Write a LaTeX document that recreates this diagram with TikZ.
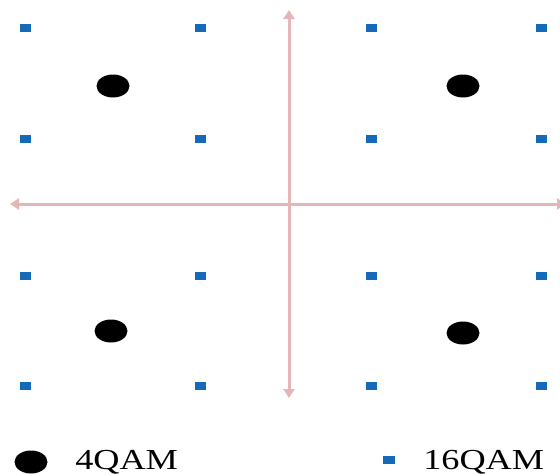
\documentclass[tikz,border=0pt]{standalone}
\usepackage{fontspec}
\setmainfont{Liberation Serif}
\usetikzlibrary{arrows.meta}
\usetikzlibrary{shapes.geometric}
\definecolor{axispink}{RGB}{228,182,182}
\definecolor{ptblue}{RGB}{20,105,185}
\tikzset{
  sq/.style={fill=ptblue, draw=none, minimum width=11.5pt, minimum height=8.5pt, inner sep=0pt, outer sep=0pt},
  dot/.style={ellipse, fill=black, draw=none, minimum width=33pt, minimum height=23pt, inner sep=0pt},
  axis/.style={draw=axispink, line width=3pt, -{Triangle[length=9pt,width=11pt]}},
  legtext/.style={font=\fontsize{29}{32}\selectfont, anchor=base west, xscale=1.25, inner sep=0pt}
}
\begin{document}
\begin{tikzpicture}[x=1pt,y=-1pt]
\useasboundingbox (0,0) rectangle (560,474);
\fill[white] (0,0) rectangle (560,474);
% axes
\coordinate (o) at (289,204);
\coordinate (top) at (289,10);
\coordinate (bot) at (289,398);
\coordinate (lft) at (10,204);
\coordinate (rgt) at (566,204);
\draw[axis] (o) -- (top);
\draw[axis] (o) -- (bot);
\draw[axis] (o) -- (lft);
\draw[axis] (o) -- (rgt);
% 16QAM squares
\foreach \x [count=\i] in {25.5,200.5,371.5,541.5}{
  \foreach \y [count=\j] in {28,139,276,386}{
    \node[sq] (s\i\j) at (\x,\y) {};
  }
}
% 4QAM dots
\node[dot] (d1) at (113,86) {};
\node[dot] (d2) at (463,86) {};
\node[dot] (d3) at (111,331) {};
\node[dot] (d4) at (463,333) {};
% legend
\node[dot] (ld) at (31,462) {};
\node[legtext] (lt1) at (75,469) {4QAM};
\node[sq] (ls) at (389,460) {};
\node[legtext] (lt2) at (423,469) {16QAM};
\end{tikzpicture}
\end{document}
